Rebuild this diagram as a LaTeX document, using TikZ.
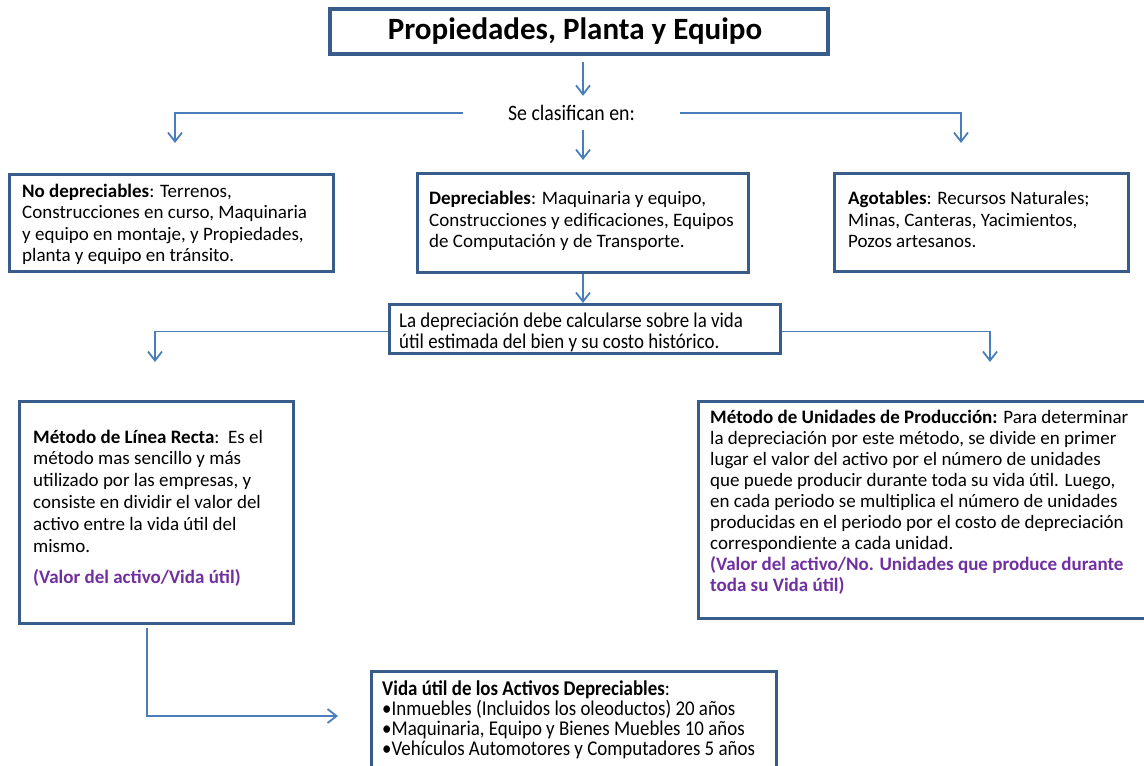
\documentclass[tikz,border=0pt]{standalone}
\usepackage{fontspec}
\setmainfont{Carlito}
\newfontfamily\narrowfont{Carlito}[FakeStretch=0.9]
\usetikzlibrary{arrows.meta}
\definecolor{boxline}{HTML}{385D8A}
\definecolor{linkline}{HTML}{4A7EBB}
\definecolor{formula}{RGB}{112,48,160}
\tikzset{
  panel/.style={draw=boxline, line width=3pt, fill=white, inner sep=0pt, anchor=north west},
  body/.style={anchor=north west, inner sep=0pt, align=left, font=\fontsize{19}{21.5}\selectfont},
  narrowbody/.style={anchor=north west, inner sep=0pt, align=left, font=\narrowfont\fontsize{21}{21}\selectfont},
  link/.style={draw=linkline, line width=1.9pt, -{Straight Barb[length=9pt,width=14pt,line width=1.8pt]}},
}
\newcommand{\formulatext}[1]{\textcolor{formula}{\textbf{#1}}}
\begin{document}
\begin{tikzpicture}[x=1pt,y=-1pt]
\clip (0,0) rectangle (1144,766);
\fill[white] (0,0) rectangle (1144,766);

% title
\node[panel, line width=3.5pt, minimum width=498pt, minimum height=45pt] (title) at (328,7) {};
\node[font=\fontsize{31}{34}\selectfont\bfseries] (titletext) at (575,31) {Propiedades, Planta y Equipo};

% classification label
\node[font=\narrowfont\fontsize{22}{24}\selectfont, minimum width=217pt, minimum height=34pt, inner sep=0pt] (clas) at (571.5,113) {Se clasifican en:};

% three categories
\node[panel, minimum width=324pt, minimum height=97pt] (nodep) at (8,173) {};
\node[body] (nodeptext) at (22,183.5) {\textbf{No depreciables}: Terrenos,\\ Construcciones en curso, Maquinaria\\ y equipo en montaje, y Propiedades,\\ planta y equipo en tránsito.};

\node[panel, minimum width=331pt, minimum height=99pt] (dep) at (416,172) {};
\node[body] (deptext) at (429,191) {\textbf{Depreciables}: Maquinaria y equipo,\\ Construcciones y edificaciones, Equipos\\ de Computación y de Transporte.};

\node[panel, minimum width=294pt, minimum height=98pt] (agot) at (833,172) {};
\node[body] (agottext) at (848,191) {\textbf{Agotables}: Recursos Naturales;\\ Minas, Canteras, Yacimientos,\\ Pozos artesanos.};

% depreciation note
\node[panel, minimum width=391pt, minimum height=49pt] (nota) at (388,303) {};
\node[narrowbody] (notatext) at (399,312.5) {La depreciación debe calcularse sobre la vida\\ útil estimada del bien y su costo histórico.};

% methods
\node[panel, minimum width=274pt, minimum height=222pt] (recta) at (18,400) {};
\node[body, font=\fontsize{19}{21.8}\selectfont] (rectatext) at (33,429.5) {\textbf{Método de Línea Recta}:\ \ Es el\\ método mas sencillo y más\\ utilizado por las empresas, y\\ consiste en dividir el valor del\\ activo entre la vida útil del\\ mismo.\\[10pt] \formulatext{(Valor del activo/Vida útil)}};

\node[panel, minimum width=460pt, minimum height=217pt] (unid) at (697,400) {};
\node[body, font=\fontsize{19}{21.1}\selectfont] (unidtext) at (710,409.5) {\textbf{Método de Unidades de Producción:} Para determinar\\ la depreciación por este método, se divide en primer\\ lugar el valor del activo por el número de unidades\\ que puede producir durante toda su vida útil. Luego,\\ en cada periodo se multiplica el número de unidades\\ producidas en el periodo por el costo de depreciación\\ correspondiente a cada unidad.\\ \formulatext{(Valor del activo/No. Unidades que produce durante}\\ \formulatext{toda su Vida útil)}};

% useful life
\node[panel, minimum width=405pt, minimum height=110pt] (vida) at (370,670) {};
\node[narrowbody, font=\narrowfont\fontsize{21}{20}\selectfont] (vidatext) at (382,681) {\textbf{Vida útil de los Activos Depreciables}:\\ \textbullet Inmuebles (Incluidos los oleoductos) 20 años\\ \textbullet Maquinaria, Equipo y Bienes Muebles 10 años\\ \textbullet Vehículos Automotores y Computadores 5 años};

% arrow end points
\coordinate (leftdrop) at (175,143);
\coordinate (rightdrop) at (961,143);
\coordinate (rectadrop) at (155,362);
\coordinate (uniddrop) at (990,362);
\coordinate (rectaout) at (147,628);
\coordinate (vidain) at (338,716);

% connectors
\draw[link, shorten <=6pt] (title.south -| dep.north) -- (clas.north -| dep.north);
\draw[link] (clas.west) -| (leftdrop);
\draw[link] (clas.east) -| (rightdrop);
\draw[link, shorten >=12pt] (clas.south -| dep.north) -- (dep.north);
\draw[link] (dep.south) -- (nota.north -| dep.south);
\draw[link] ([yshift=-2.5pt]nota.west) -| (rectadrop);
\draw[link] ([yshift=-2.5pt]nota.east) -| (uniddrop);
\draw[link] (rectaout) |- (vidain);
\end{tikzpicture}
\end{document}
